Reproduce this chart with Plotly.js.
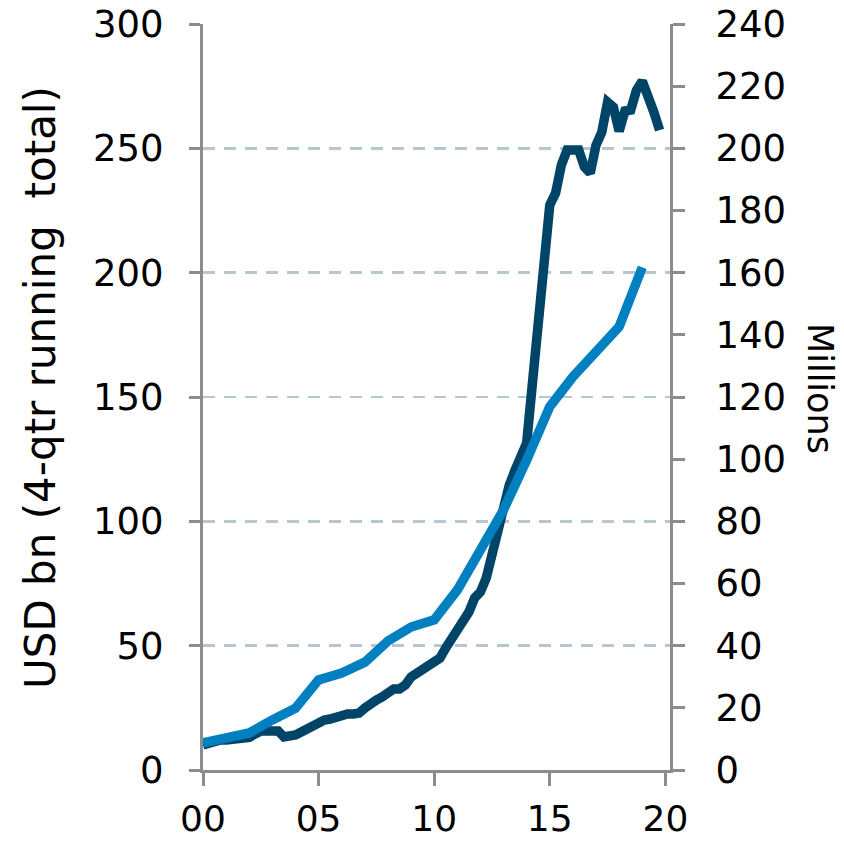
<!DOCTYPE html>
<html>
<head>
<meta charset="utf-8">
<script src="https://cdn.plot.ly/plotly-3.0.1.min.js"></script>
<style>html,body{margin:0;padding:0;background:#fff;}#chart{width:844px;height:844px;}</style>
</head>
<body>
<div id="chart"></div>
<script>
// Annual series (right axis, millions)
var annualYears = [2000,2001,2002,2003,2004,2005,2006,2007,2008,2009,2010,2011,2012,2013,2014,2015,2016,2017,2018,2019];
var annualMillions = [8.7,10.6,11.9,16.1,19.9,29.0,31.2,34.7,41.5,46.0,48.3,57.9,70.8,83.7,99.7,116.9,126.5,134.5,142.6,161.7];

// Quarterly series (left axis, USD bn, 4-qtr running total), 2000Q1 .. 2019Q4
var quarterStartYear = 2000;
var quarterlyUsdBn = [
  10.1,10.9,11.3,12.1,
  12.1,12.5,12.9,12.9,
  13.1,14.5,15.7,15.7,
  15.7,15.7,13.3,13.3,
  14.1,15.3,16.5,18.5,
  18.9,20.1,20.5,21.3,
  21.7,22.5,22.5,22.9,
  24.9,26.9,28.1,29.4,
  30.6,32.6,32.6,34.2,
  37.4,39.0,41.0,42.2,
  43.4,45.0,49.1,52.3,
  56.3,59.5,63.5,69.2,
  71.6,77.2,86.4,96.5,
  106.6,114.6,120.6,126.7,
  131.5,155.6,179.7,203.9,
  227.2,232.0,243.3,249.3,
  249.3,249.3,242.5,240.1,
  251.3,256.5,268.6,266.6,
  256.9,265.0,265.4,273.4,
  277.0,271.4,264.6,257.3
];

var xTickVals = [2000,2005,2010,2015,2020];
var xTickText = ["00","05","10","15","20"];
var leftTicks = [0,50,100,150,200,250,300];
var rightTicks = [0,20,40,60,80,100,120,140,160,180,200,220,240];
var leftTitle = "USD bn (4-qtr running  total)";
var rightTitle = "Millions";

var quarterX = quarterlyUsdBn.map(function(v,i){ return quarterStartYear + i/4; });

var axisColor = "#8c8c8c";
var fontFamily = "DejaVu Sans, Verdana, sans-serif";
var yTickFont = {family: fontFamily, size: 37, color: "#000"};
var xTickFont = {family: fontFamily, size: 36, color: "#000"};

var traces = [
  {
    x: quarterX, y: quarterlyUsdBn, type: "scatter", mode: "lines",
    line: {color: "#004467", width: 9.5},
    yaxis: "y", hoverinfo: "skip", showlegend: false
  },
  {
    x: annualYears, y: annualMillions, type: "scatter", mode: "lines",
    line: {color: "#0080c0", width: 9.5},
    yaxis: "y2", hoverinfo: "skip", showlegend: false
  }
];

var layout = {
  width: 844, height: 844,
  margin: {l: 203, r: 174, t: 24, b: 74, pad: 0},
  paper_bgcolor: "#fff", plot_bgcolor: "#fff",
  showlegend: false,
  xaxis: {
    range: [2000, 2020.2], tickmode: "array", tickvals: xTickVals, ticktext: xTickText,
    showline: true, linecolor: axisColor, linewidth: 3, mirror: false,
    ticks: "outside", ticklen: 13, tickwidth: 3, tickcolor: axisColor,
    showgrid: false, zeroline: false, tickfont: xTickFont, ticklabelstandoff: 2
  },
  yaxis: {
    range: [0, 300], tickmode: "array", tickvals: leftTicks,
    showline: true, linecolor: axisColor, linewidth: 3,
    ticks: "outside", ticklen: 11, tickwidth: 3, tickcolor: axisColor,
    showgrid: true, gridcolor: "#b5c7d0", gridwidth: 2.5, griddash: "12px,9px",
    zeroline: false, tickfont: yTickFont, ticklabelstandoff: 18
  },
  yaxis2: {
    range: [0, 240], tickmode: "array", tickvals: rightTicks,
    overlaying: "y", side: "right",
    showline: true, linecolor: axisColor, linewidth: 3,
    ticks: "outside", ticklen: 12, tickwidth: 3, tickcolor: axisColor,
    showgrid: false, zeroline: false, tickfont: yTickFont, ticklabelstandoff: 23
  },
  annotations: [
    {text: leftTitle, xref: "paper", yref: "paper", x: (40-203)/467, y: (770-388)/746,
     xanchor: "center", yanchor: "middle", textangle: -90, showarrow: false,
     font: {family: fontFamily, size: 42, color: "#000"}},
    {text: rightTitle, xref: "paper", yref: "paper", x: (820-203)/467, y: (770-388)/746,
     xanchor: "center", yanchor: "middle", textangle: 90, showarrow: false,
     font: {family: fontFamily, size: 35, color: "#000"}}
  ]
};

Plotly.newPlot("chart", traces, layout, {staticPlot: true, displayModeBar: false});
</script>
</body>
</html>
